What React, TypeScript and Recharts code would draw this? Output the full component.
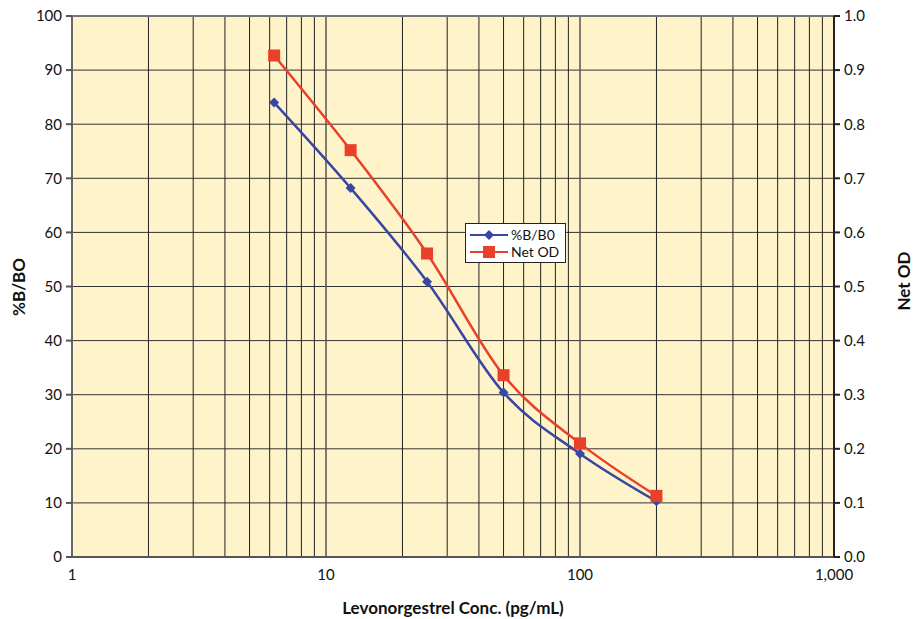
import { useEffect } from "react";
import {
  ComposedChart,
  Line,
  XAxis,
  YAxis,
  CartesianGrid,
  ReferenceLine,
} from "recharts";

const concentrations = [6.25, 12.5, 25, 50, 100, 200];
const percentBB0 = [84, 68.2, 50.9, 30.4, 19.1, 10.3];
const netOD = [0.927, 0.752, 0.561, 0.336, 0.21, 0.113];

const xTicks = [1, 10, 100, 1000];
const leftTicks = [0, 10, 20, 30, 40, 50, 60, 70, 80, 90, 100];
const rightTicks = [0, 0.1, 0.2, 0.3, 0.4, 0.5, 0.6, 0.7, 0.8, 0.9, 1.0];

const minorX = [2, 3, 4, 5, 6, 7, 8, 9, 20, 30, 40, 50, 60, 70, 80, 90, 200, 300, 400, 500, 600, 700, 800, 900];

const BLUE = "#3a46a3";
const RED = "#e8402a";
const FONT = "Lato, 'Open Sans', sans-serif";

const chartData = concentrations.map((c, i) => ({
  conc: c,
  bb0: percentBB0[i],
  od: netOD[i],
}));

const Diamond = (props: any) => {
  const { cx, cy } = props;
  if (cx == null || cy == null) return null;
  const s = 5;
  return (
    <path
      d={`M${cx},${cy - s}L${cx + s},${cy}L${cx},${cy + s}L${cx - s},${cy}Z`}
      fill={BLUE}
    />
  );
};

const Square = (props: any) => {
  const { cx, cy } = props;
  if (cx == null || cy == null) return null;
  const s = 6;
  return <rect x={cx - s} y={cy - s} width={s * 2} height={s * 2} fill={RED} />;
};

const LegendBox = () => (
  <div
    style={{
      position: "absolute",
      left: 465,
      top: 223,
      background: "#fff",
      border: "1px solid #222",
      padding: "2px 6px 2px 4px",
      fontFamily: FONT,
      fontSize: 14,
      color: "#111",
      lineHeight: "17px",
    }}
  >
    <div style={{ display: "flex", alignItems: "center" }}>
      <svg width={40} height={16}>
        <line x1={0} y1={8} x2={38} y2={8} stroke={BLUE} strokeWidth={2} />
        <path d="M19,3L24,8L19,13L14,8Z" fill={BLUE} />
      </svg>
      <span style={{ marginLeft: 1 }}>%B/B0</span>
    </div>
    <div style={{ display: "flex", alignItems: "center" }}>
      <svg width={40} height={16}>
        <line x1={0} y1={8} x2={38} y2={8} stroke={RED} strokeWidth={2} />
        <rect x={13} y={2} width={12} height={12} fill={RED} />
      </svg>
      <span style={{ marginLeft: 1 }}>Net OD</span>
    </div>
  </div>
);

const titleStyle = {
  position: "absolute" as const,
  fontFamily: FONT,
  fontSize: 17,
  fontWeight: 700,
  color: "#111",
  whiteSpace: "nowrap" as const,
};

export default function App() {
  useEffect(() => {
    document.body.style.margin = "0";
  }, []);

  const tickStyle = { fill: "#111", fontSize: 15, fontFamily: FONT };

  return (
    <div style={{ position: "relative", width: 913, height: 619, background: "#fff" }}>
      <ComposedChart
        width={913}
        height={619}
        data={chartData}
        margin={{ top: 16, right: 0, bottom: 0, left: 0 }}
      >
        <CartesianGrid
          yAxisId="left"
          vertical={false}
          fill="#fff4c9"
          fillOpacity={1}
          stroke="#333"
          strokeOpacity={1}
        />
        {minorX.map((v) => (
          <ReferenceLine key={v} x={v} yAxisId="left" stroke="#222" strokeWidth={1} />
        ))}
        {[10, 100].map((v) => (
          <ReferenceLine key={`m${v}`} x={v} yAxisId="left" stroke="#555" strokeWidth={1.5} />
        ))}
        <ReferenceLine y={100} yAxisId="left" stroke="#777" strokeWidth={2} />
        <XAxis
          dataKey="conc"
          type="number"
          scale="log"
          domain={[1, 1000]}
          ticks={xTicks}
          allowDataOverflow
          tickFormatter={(v: number) => v.toLocaleString("en-US")}
          tick={tickStyle}
          tickLine={false}
          axisLine={{ stroke: "#555", strokeWidth: 2 }}
          height={62}
          tickMargin={6}
        />
        <YAxis
          yAxisId="left"
          domain={[0, 100]}
          ticks={leftTicks}
          tick={tickStyle}
          tickSize={6}
          tickMargin={4}
          tickLine={{ stroke: "#555", strokeWidth: 2 }}
          axisLine={{ stroke: "#666", strokeWidth: 2 }}
          width={72}
        />
        <YAxis
          yAxisId="right"
          orientation="right"
          domain={[0, 1]}
          ticks={rightTicks}
          tickFormatter={(v: number) => v.toFixed(1)}
          tick={tickStyle}
          tickSize={6}
          tickMargin={4}
          tickLine={{ stroke: "#222", strokeWidth: 2 }}
          axisLine={{ stroke: "#222", strokeWidth: 2 }}
          width={79}
        />
        <Line
          yAxisId="left"
          type="monotone"
          dataKey="bb0"
          name="%B/B0"
          stroke={BLUE}
          strokeWidth={2.5}
          dot={<Diamond />}
          activeDot={false}
          isAnimationActive={false}
        />
        <Line
          yAxisId="right"
          type="monotone"
          dataKey="od"
          name="Net OD"
          stroke={RED}
          strokeWidth={2.5}
          dot={<Square />}
          activeDot={false}
          isAnimationActive={false}
        />
      </ComposedChart>
      <LegendBox />
      <div
        style={{
          ...titleStyle,
          left: 18,
          top: 287,
          transform: "translate(-50%, -50%) rotate(-90deg)",
        }}
      >
        %B/BO
      </div>
      <div
        style={{
          ...titleStyle,
          left: 903,
          top: 281,
          transform: "translate(-50%, -50%) rotate(-90deg)",
        }}
      >
        Net OD
      </div>
      <div
        style={{
          ...titleStyle,
          left: 453,
          top: 607,
          transform: "translate(-50%, -50%)",
        }}
      >
        Levonorgestrel Conc. (pg/mL)
      </div>
    </div>
  );
}
